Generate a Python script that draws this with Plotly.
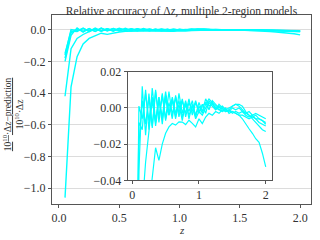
import plotly.graph_objects as go

z = [round(0.05 * (i + 1), 2) for i in range(40)]

series_a = [-1.06, -0.36, -0.17, -0.09, -0.055, -0.038, -0.022, -0.029, -0.020, -0.014,
            -0.0105, -0.0086, -0.0095, -0.0077, -0.0078, -0.0092, -0.0068, -0.0085, -0.0105, -0.006,
            -0.0086, -0.005, -0.003, -0.004, -0.002, -0.003, -0.001, -0.002, -0.0015, -0.002,
            -0.003, -0.004, -0.006, -0.009, -0.0115, -0.014, -0.017, -0.019, -0.025, -0.0325]
series_b = [-0.42, -0.12, -0.055, -0.03, -0.012, 0.004, -0.008, 0.006, -0.006, 0.005,
            -0.004, 0.006, -0.003, 0.004, -0.005, 0.002, -0.004, 0.001, -0.006, -0.002,
            -0.004, 0.000, 0.003, 0.001, -0.001, 0.001, -0.002, -0.001, 0.000, 0.001,
            0.002, 0.002, 0.001, -0.002, -0.004, -0.005, -0.006, -0.008, -0.009, -0.010]
series_c = [-0.20, -0.035, 0.012, -0.015, 0.008, -0.010, 0.010, -0.008, 0.007, -0.006,
            0.009, -0.004, 0.006, -0.005, 0.004, -0.003, 0.005, -0.004, 0.003, -0.002,
            0.002, -0.003, 0.004, 0.002, 0.000, -0.001, -0.002, 0.000, -0.003, -0.002,
            -0.003, -0.004, -0.004, -0.005, -0.006, -0.005, -0.004, -0.006, -0.007, -0.008]
series_d = [-0.15, -0.008, -0.012, 0.010, -0.012, 0.011, -0.007, 0.006, -0.009, 0.007,
            -0.004, 0.005, -0.006, 0.008, -0.003, 0.004, -0.006, 0.002, -0.004, 0.003,
            -0.002, 0.005, 0.001, 0.003, -0.001, 0.002, 0.000, -0.002, -0.001, 0.001,
            0.002, 0.001, -0.001, -0.003, -0.004, -0.006, -0.008, -0.010, -0.012, -0.013]
series_e = [-0.18, -0.02, 0.004, -0.009, 0.006, -0.011, 0.009, -0.005, 0.008, -0.007,
            0.003, -0.006, 0.007, -0.003, 0.005, -0.005, 0.003, -0.002, 0.004, -0.003,
            0.001, 0.003, -0.001, 0.004, 0.002, 0.000, 0.001, -0.001, -0.002, 0.000,
            -0.001, 0.000, -0.002, -0.003, -0.002, -0.004, -0.003, -0.004, -0.005, -0.006]
series_f = [-0.16, 0.001, -0.006, 0.008, -0.007, 0.006, -0.010, 0.004, -0.005, 0.009,
            -0.003, 0.004, -0.005, 0.002, -0.007, 0.003, -0.002, 0.004, -0.005, 0.001,
            -0.003, 0.002, 0.005, 0.003, 0.001, -0.001, 0.000, -0.002, -0.001, -0.003,
            -0.002, -0.003, -0.002, -0.004, -0.005, -0.004, -0.006, -0.006, -0.007, -0.009]
all_series = [series_a, series_b, series_c, series_d, series_e, series_f]

main_xticks = [0.0, 0.5, 1.0, 1.5, 2.0]
main_xlabels = ["0.0", "0.5", "1.0", "1.5", "2.0"]
main_yticks = [-1.0, -0.8, -0.6, -0.4, -0.2, 0.0]
main_ylabels = ["\u22121.0", "\u22120.8", "\u22120.6", "\u22120.4", "\u22120.2", "0.0"]
inset_xticks = [0, 1, 2]
inset_xlabels = ["0", "1", "2"]
inset_yticks = [-0.04, -0.02, 0.0, 0.02]
inset_ylabels = ["\u22120.04", "\u22120.02", "0.00", "0.02"]

CYAN = "#00FFFF"
FONT = "Liberation Serif"
AX = "#555555"
GRID = "#dcdcdc"
TXT = "#333333"

main_xrange = [-0.058, 2.09]
main_yrange = [-1.10, 0.093]
inset_x = [0.292, 0.851]
inset_y = [0.125, 0.700]

fig = go.Figure()
for s in all_series:
    fig.add_trace(go.Scatter(x=z, y=s, mode="lines", line=dict(color=CYAN, width=1.4),
                             xaxis="x", yaxis="y", showlegend=False))
for s in all_series:
    fig.add_trace(go.Scatter(x=z, y=s, mode="lines", line=dict(color=CYAN, width=1.2),
                             xaxis="x2", yaxis="y2", showlegend=False))

axis_common = dict(showline=True, linecolor=AX, linewidth=1, mirror=True, automargin=False,
                   ticks="outside", tickcolor=AX, ticklen=3, tickwidth=1,
                   tickfont=dict(family=FONT, size=12, color=TXT), zeroline=False)

fig.update_layout(
    template="none",
    width=320, height=240,
    margin=dict(l=52, r=9, t=15, b=36, autoexpand=False),
    paper_bgcolor="white", plot_bgcolor="white",
    font=dict(family=FONT, color=TXT),
    title=dict(text="Relative accuracy of \u0394<i>z</i>, multiple 2-region models",
               x=0.5, xref="paper", xanchor="center", y=1 - 11 / 240, yref="container",
               yanchor="middle", font=dict(family=FONT, size=11.5, color=TXT)),
    xaxis=dict(domain=[0, 1], range=main_xrange, tickvals=main_xticks, ticktext=main_xlabels,
               showgrid=False, **axis_common),
    yaxis=dict(domain=[0, 1], range=main_yrange, tickvals=main_yticks, ticktext=main_ylabels,
               showgrid=True, gridcolor=GRID, gridwidth=1, **axis_common),
    xaxis2=dict(domain=inset_x, anchor="y2", range=[-0.069, 2.1], tickvals=inset_xticks,
                ticktext=inset_xlabels, showgrid=False, **axis_common),
    yaxis2=dict(domain=inset_y, anchor="x2", range=[-0.04, 0.02], tickvals=inset_yticks,
                ticktext=inset_ylabels, showgrid=True, gridcolor=GRID, gridwidth=1, **axis_common),
)

# white background for the inset, covering the main plot's gridlines
xspan = main_xrange[1] - main_xrange[0]
yspan = main_yrange[1] - main_yrange[0]
fig.add_shape(type="rect", xref="x", yref="y",
              x0=main_xrange[0] + inset_x[0] * xspan, x1=main_xrange[0] + inset_x[1] * xspan,
              y0=main_yrange[0] + inset_y[0] * yspan, y1=main_yrange[0] + inset_y[1] * yspan,
              fillcolor="white", line=dict(width=0), layer="between")

fig.add_annotation(text="<i>z</i>", xref="paper", yref="paper", x=0.5, y=-0.14,
                   xanchor="center", yanchor="middle", showarrow=False,
                   font=dict(family=FONT, size=11, color=TXT))

fig.add_annotation(
    text="<u>10<sup>10</sup>\u00b7\u0394z\u2212prediction</u><br>10<sup>10</sup>\u00b7\u0394z",
    xref="paper", yref="paper", x=-0.15, y=0.476, xanchor="center", yanchor="middle",
    textangle=-90, showarrow=False, font=dict(family=FONT, size=9.5, color=TXT))

fig.write_html("out.html", config={"displayModeBar": False},
               post_script="document.body.style.margin='0';")
